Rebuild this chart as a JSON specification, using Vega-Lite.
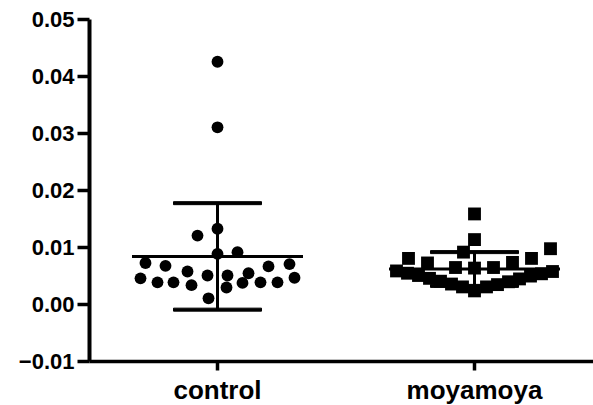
{
  "$schema": "https://vega.github.io/schema/vega-lite/v6.json",
  "autosize": {"type": "none"},
  "padding": {"left": 89, "top": 19, "right": 0, "bottom": 44},
  "width": 504,
  "height": 342,
  "background": "white",
  "config": {
    "view": {"stroke": null}
  },
  "data": {"values": [
    {"group": "control", "value": 0.0425, "jx": 0},
    {"group": "control", "value": 0.0310, "jx": 0},
    {"group": "control", "value": 0.0132, "jx": 0},
    {"group": "control", "value": 0.0120, "jx": -2.0},
    {"group": "control", "value": 0.0088, "jx": 0},
    {"group": "control", "value": 0.0091, "jx": 2.0},
    {"group": "control", "value": 0.0072, "jx": -7.2},
    {"group": "control", "value": 0.0067, "jx": -5.2},
    {"group": "control", "value": 0.0057, "jx": -3.0},
    {"group": "control", "value": 0.0050, "jx": -1.0},
    {"group": "control", "value": 0.0050, "jx": 1.0},
    {"group": "control", "value": 0.0054, "jx": 3.1},
    {"group": "control", "value": 0.0066, "jx": 5.1},
    {"group": "control", "value": 0.0070, "jx": 7.2},
    {"group": "control", "value": 0.0045, "jx": -7.7},
    {"group": "control", "value": 0.0038, "jx": -6.0},
    {"group": "control", "value": 0.0038, "jx": -4.4},
    {"group": "control", "value": 0.0033, "jx": -2.6},
    {"group": "control", "value": 0.0029, "jx": 0.9},
    {"group": "control", "value": 0.0037, "jx": 2.5},
    {"group": "control", "value": 0.0038, "jx": 4.3},
    {"group": "control", "value": 0.0038, "jx": 6.0},
    {"group": "control", "value": 0.0046, "jx": 7.7},
    {"group": "control", "value": 0.0010, "jx": -0.9},
    {"group": "moyamoya", "value": 0.0158, "jx": 0},
    {"group": "moyamoya", "value": 0.0113, "jx": 0},
    {"group": "moyamoya", "value": 0.0091, "jx": -1.1},
    {"group": "moyamoya", "value": 0.0080, "jx": -6.6},
    {"group": "moyamoya", "value": 0.0072, "jx": -4.7},
    {"group": "moyamoya", "value": 0.0080, "jx": 5.7},
    {"group": "moyamoya", "value": 0.0097, "jx": 7.6},
    {"group": "moyamoya", "value": 0.0064, "jx": -1.9},
    {"group": "moyamoya", "value": 0.0063, "jx": 0},
    {"group": "moyamoya", "value": 0.0064, "jx": 1.9},
    {"group": "moyamoya", "value": 0.0073, "jx": 3.8},
    {"group": "moyamoya", "value": 0.0058, "jx": -7.8},
    {"group": "moyamoya", "value": 0.0054, "jx": -6.7},
    {"group": "moyamoya", "value": 0.0050, "jx": -5.6},
    {"group": "moyamoya", "value": 0.0045, "jx": -4.5},
    {"group": "moyamoya", "value": 0.0040, "jx": -3.4},
    {"group": "moyamoya", "value": 0.0035, "jx": -2.3},
    {"group": "moyamoya", "value": 0.0030, "jx": -1.2},
    {"group": "moyamoya", "value": 0.0023, "jx": 0},
    {"group": "moyamoya", "value": 0.0030, "jx": 1.2},
    {"group": "moyamoya", "value": 0.0034, "jx": 2.3},
    {"group": "moyamoya", "value": 0.0039, "jx": 3.4},
    {"group": "moyamoya", "value": 0.0044, "jx": 4.5},
    {"group": "moyamoya", "value": 0.0049, "jx": 5.6},
    {"group": "moyamoya", "value": 0.0053, "jx": 6.7},
    {"group": "moyamoya", "value": 0.0057, "jx": 7.8}
  ]},
  "encoding": {
    "x": {
      "field": "group", "type": "nominal",
      "scale": {"domain": ["control", "moyamoya"], "range": [0, 514], "paddingInner": 0, "paddingOuter": 0},
      "axis": {"title": null, "grid": false, "labelFont": "Liberation Sans", "labelFontWeight": "bold", "labelColor": "black", "domainColor": "black", "tickColor": "black", "labelAngle": 0, "labelFontSize": 26, "tickSize": 9, "tickWidth": 3.5, "domainWidth": 3.5, "labelPadding": 7}
    },
    "y": {
      "field": "value", "type": "quantitative",
      "scale": {"domain": [-0.01, 0.05], "nice": false, "zero": false},
      "axis": {"title": null, "grid": false, "labelFont": "Liberation Sans", "labelFontWeight": "bold", "labelColor": "black", "domainColor": "black", "tickColor": "black", "values": [-0.01, 0, 0.01, 0.02, 0.03, 0.04, 0.05], "format": ".2f", "labelFontSize": 22, "tickSize": 12, "tickWidth": 3.5, "domainWidth": 4, "labelPadding": 3}
    }
  },
  "layer": [
    {
      "mark": {"type": "point", "filled": true, "color": "black", "opacity": 1},
      "encoding": {
        "xOffset": {"field": "jx", "type": "quantitative", "scale": {"domain": [-12.85, 12.85]}},
        "shape": {"field": "group", "type": "nominal", "scale": {"domain": ["control", "moyamoya"], "range": ["circle", "square"]}, "legend": null},
        "size": {"field": "group", "type": "nominal", "scale": {"domain": ["control", "moyamoya"], "range": [140, 165]}, "legend": null}
      }
    },
    {
      "mark": {"type": "tick", "color": "black", "opacity": 1, "size": 171, "thickness": 3},
      "encoding": {
        "y": {"aggregate": "mean", "field": "value", "type": "quantitative", "title": null}
      }
    },
    {
      "mark": {"type": "errorbar", "extent": "stdev", "thickness": 3, "rule": {"stroke": "black", "color": "black", "opacity": 1}, "ticks": {"size": 88, "thickness": 3, "stroke": "black", "color": "black", "opacity": 1}},
      "encoding": {
        "y": {"field": "value", "type": "quantitative", "title": null}
      }
    }
  ]
}
